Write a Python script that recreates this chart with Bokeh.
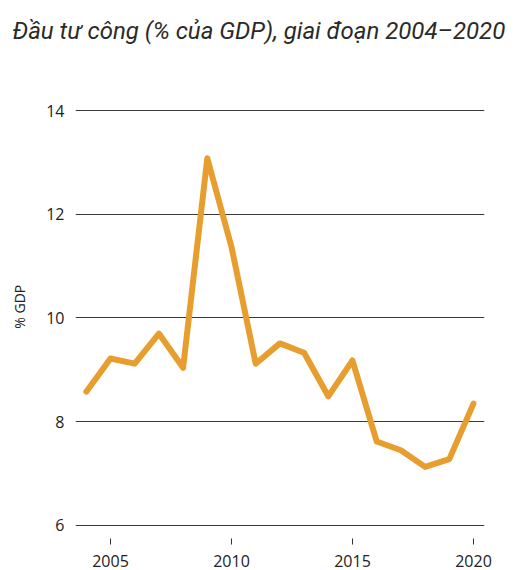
from bokeh.plotting import figure
from bokeh.models import FixedTicker, Range1d, Title
from bokeh.embed import file_html
from bokeh.resources import INLINE

# Public investment as share of GDP, 2004-2020
years = [2004, 2005, 2006, 2007, 2008, 2009, 2010, 2011, 2012,
         2013, 2014, 2015, 2016, 2017, 2018, 2019, 2020]
invest_pct_gdp = [8.58, 9.22, 9.12, 9.70, 9.04, 13.08, 11.37, 9.12, 9.51,
                  9.33, 8.49, 9.18, 7.62, 7.45, 7.13, 7.28, 8.35]

x_ticks = [2005, 2010, 2015, 2020]
y_ticks = [6, 8, 10, 12, 14]

title_text = "Đầu tư công (% của GDP), giai đoạn 2004–2020"
# leading no-break spaces nudge the rotated label a little above the frame centre
y_label_text = "\u00a0" * 7 + "% GDP"

LINE_COLOR = "#e79e2f"
GRID_COLOR = "#3a3a3a"
TEXT_COLOR = "#222222"

p = figure(
    width=516, height=570,
    x_range=Range1d(2003.554, 2020.455),
    y_range=Range1d(5.749, 14.193),
    output_backend="svg", toolbar_location=None,
    min_border_left=75, min_border_right=32,
    min_border_top=100, min_border_bottom=32,
    frame_width=409, frame_height=438,
)
p.outline_line_color = None
p.background_fill_color = "white"
p.border_fill_color = "white"

# two empty trailing lines lift the title to the top of the canvas
p.add_layout(Title(text=title_text + "\n\n", align="left", offset=-63,
                   standoff=0,
                   text_font="Roboto", text_font_style="italic",
                   text_font_size="24px", text_color="#2a2a2a"), "above")

# x axis: short ticks below the bottom gridline, no axis line
p.xaxis.ticker = FixedTicker(ticks=x_ticks)
p.xaxis.axis_line_color = None
p.xaxis.major_tick_in = 0
p.xaxis.major_tick_out = 6
p.xaxis.major_tick_line_color = "#333333"
p.xaxis.minor_tick_line_color = None
p.xaxis.major_label_standoff = 10
p.xaxis.major_label_text_font = "Open Sans"
p.xaxis.major_label_text_font_size = "16px"
p.xaxis.major_label_text_color = TEXT_COLOR

# y axis: labels only, horizontal gridlines
p.yaxis.ticker = FixedTicker(ticks=y_ticks)
p.yaxis.axis_line_color = None
p.yaxis.major_tick_line_color = None
p.yaxis.minor_tick_line_color = None
p.yaxis.major_label_standoff = 5
p.yaxis.major_label_text_font = "Open Sans"
p.yaxis.major_label_text_font_size = "16px"
p.yaxis.major_label_text_color = TEXT_COLOR
p.yaxis.axis_label = y_label_text
p.yaxis.axis_label_standoff = 14
p.yaxis.axis_label_text_font = "Open Sans"
p.yaxis.axis_label_text_font_size = "14px"
p.yaxis.axis_label_text_font_style = "normal"
p.yaxis.axis_label_text_color = TEXT_COLOR

p.xgrid.grid_line_color = None
p.ygrid.grid_line_color = GRID_COLOR
p.ygrid.grid_line_width = 1.2

p.line(years, invest_pct_gdp, line_color=LINE_COLOR, line_width=6,
       line_join="round", line_cap="round")

open("out.html", "w").write(file_html(p, INLINE))
